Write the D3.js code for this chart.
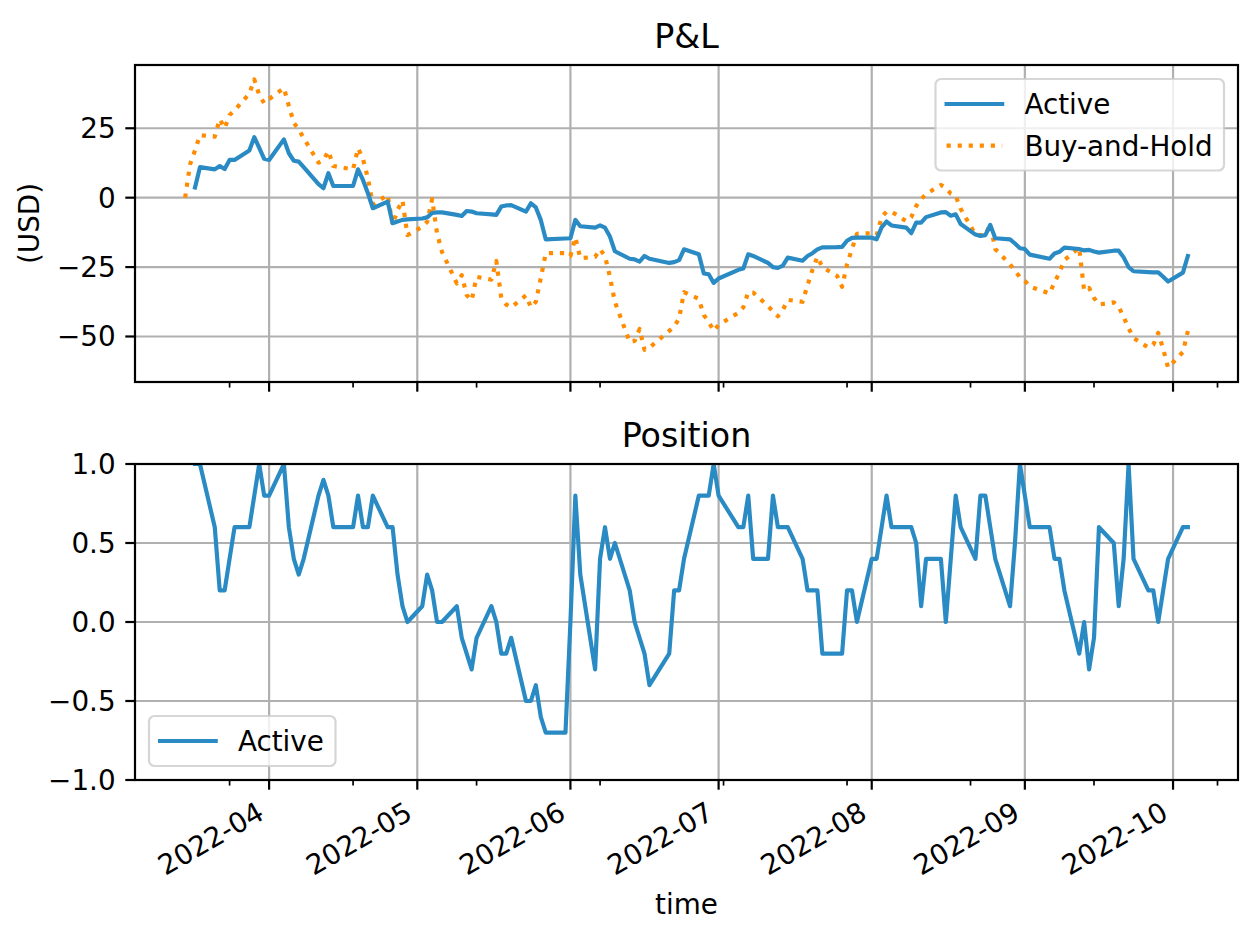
<!DOCTYPE html>
<html><head><meta charset="utf-8">
<script src="https://cdn.jsdelivr.net/npm/d3@7"></script>
<style>
body{margin:0;background:#fff}
svg text{font-family:"DejaVu Sans",sans-serif;fill:#000}
</style>
</head><body><svg id="c" width="1256" height="940"></svg>
<script>
// ---- data ----
const dates = ["2022-03-15","2022-03-16","2022-03-17","2022-03-18","2022-03-21","2022-03-22","2022-03-23","2022-03-24","2022-03-25","2022-03-28","2022-03-29","2022-03-30","2022-03-31","2022-04-01","2022-04-04","2022-04-05","2022-04-06","2022-04-07","2022-04-08","2022-04-11","2022-04-12","2022-04-13","2022-04-14","2022-04-18","2022-04-19","2022-04-20","2022-04-21","2022-04-22","2022-04-25","2022-04-26","2022-04-27","2022-04-28","2022-04-29","2022-05-02","2022-05-03","2022-05-04","2022-05-05","2022-05-06","2022-05-09","2022-05-10","2022-05-11","2022-05-12","2022-05-13","2022-05-16","2022-05-17","2022-05-18","2022-05-19","2022-05-20","2022-05-23","2022-05-24","2022-05-25","2022-05-26","2022-05-27","2022-05-31","2022-06-01","2022-06-02","2022-06-03","2022-06-06","2022-06-07","2022-06-08","2022-06-09","2022-06-10","2022-06-13","2022-06-14","2022-06-15","2022-06-16","2022-06-17","2022-06-21","2022-06-22","2022-06-23","2022-06-24","2022-06-27","2022-06-28","2022-06-29","2022-06-30","2022-07-01","2022-07-05","2022-07-06","2022-07-07","2022-07-08","2022-07-11","2022-07-12","2022-07-13","2022-07-14","2022-07-15","2022-07-18","2022-07-19","2022-07-20","2022-07-21","2022-07-22","2022-07-25","2022-07-26","2022-07-27","2022-07-28","2022-07-29","2022-08-01","2022-08-02","2022-08-03","2022-08-04","2022-08-05","2022-08-08","2022-08-09","2022-08-10","2022-08-11","2022-08-12","2022-08-15","2022-08-16","2022-08-17","2022-08-18","2022-08-19","2022-08-22","2022-08-23","2022-08-24","2022-08-25","2022-08-26","2022-08-29","2022-08-30","2022-08-31","2022-09-01","2022-09-02","2022-09-06","2022-09-07","2022-09-08","2022-09-09","2022-09-12","2022-09-13","2022-09-14","2022-09-15","2022-09-16","2022-09-19","2022-09-20","2022-09-21","2022-09-22","2022-09-23","2022-09-26","2022-09-27","2022-09-28","2022-09-29","2022-09-30","2022-10-03","2022-10-04"];

const activePnl = [null,null,3.7,11.0,10.2,11.4,10.3,13.6,13.6,17.0,21.8,17.9,14.0,13.6,21.0,16.0,13.3,13.0,11.0,4.9,3.4,8.8,4.2,4.2,10.2,6.4,1.6,-3.8,-1.4,-9.2,-8.6,-8.0,-7.8,-7.5,-7.1,-5.5,-5.3,-5.3,-6.2,-6.6,-4.8,-5.0,-5.6,-6.0,-6.2,-3.2,-2.8,-2.7,-5.0,-2.0,-3.5,-8.0,-15.0,-14.7,-14.6,-8.0,-10.3,-10.8,-10.0,-10.8,-14.0,-19.3,-22.0,-22.2,-23.0,-21.0,-22.0,-23.5,-23.2,-22.5,-18.6,-20.4,-27.3,-27.6,-30.7,-29.1,-26.0,-25.5,-20.4,-21.0,-23.5,-25.0,-25.3,-24.5,-21.6,-22.7,-21.0,-20.0,-18.6,-17.9,-17.8,-17.7,-15.5,-14.5,-14.4,-14.4,-15.0,-10.7,-8.6,-10.0,-10.8,-12.8,-9.0,-9.0,-7.0,-5.3,-5.2,-6.5,-6.0,-9.5,-13.3,-13.8,-13.5,-9.8,-14.6,-15.0,-16.5,-18.2,-18.5,-20.5,-22.0,-20.1,-19.5,-18.0,-18.5,-19.0,-18.8,-19.4,-19.8,-19.1,-19.1,-21.5,-25.0,-26.5,-26.8,-26.9,-26.9,-28.5,-30.2,-27.0,-21.0];

const buyHoldPnl = [0.0,12.0,17.0,22.5,22.0,28.3,25.0,29.8,31.4,37.5,42.6,37.0,34.0,35.5,39.5,33.0,27.0,24.5,21.5,12.6,13.5,16.8,11.4,10.2,17.8,14.0,7.0,-2.5,1.0,-9.8,-4.5,-1.0,-13.5,-10.5,-8.7,-0.5,-12.8,-19.5,-30.9,-27.9,-35.1,-37.0,-28.5,-29.5,-22.8,-36.0,-38.5,-39.5,-35.2,-39.5,-37.5,-29.0,-20.0,-20.0,-21.0,-14.3,-21.8,-21.3,-18.6,-21.0,-28.5,-37.5,-52.0,-51.6,-47.3,-54.8,-54.0,-48.0,-46.5,-43.5,-34.0,-36.5,-42.3,-44.7,-48.0,-45.8,-41.5,-39.5,-34.0,-34.2,-39.0,-41.0,-42.7,-40.5,-36.8,-37.5,-31.5,-26.0,-21.3,-25.0,-28.2,-32.1,-24.0,-18.5,-13.0,-12.8,-13.5,-7.0,-5.0,-5.0,-8.5,-7.0,-3.0,-0.5,1.3,4.6,3.5,1.5,0.6,-4.0,-13.3,-13.5,-13.5,-9.5,-18.5,-24.0,-26.3,-28.6,-30.0,-32.0,-34.5,-30.5,-27.0,-22.5,-18.0,-33.5,-32.5,-36.1,-38.5,-37.7,-39.3,-43.0,-47.0,-50.5,-54.0,-53.0,-48.7,-54.5,-61.2,-55.6,-48.0];

const position = [null,null,1.0,1.0,0.6,0.2,0.2,0.4,0.6,0.6,0.8,1.0,0.8,0.8,1.0,0.6,0.4,0.3,0.4,0.8,0.9,0.8,0.6,0.6,0.8,0.6,0.6,0.8,0.6,0.6,0.3,0.1,0.0,0.1,0.3,0.2,0.0,0.0,0.1,-0.1,-0.2,-0.3,-0.1,0.1,0.0,-0.2,-0.2,-0.1,-0.5,-0.5,-0.4,-0.6,-0.7,-0.7,0.0,0.8,0.3,-0.3,0.4,0.6,0.4,0.5,0.2,0.0,-0.1,-0.2,-0.4,-0.2,0.2,0.2,0.4,0.8,0.8,0.8,1.0,0.8,0.6,0.6,0.8,0.4,0.4,0.8,0.6,0.6,0.6,0.4,0.2,0.2,0.2,-0.2,-0.2,-0.2,0.2,0.2,0.0,0.4,0.4,0.6,0.8,0.6,0.6,0.6,0.5,0.1,0.4,0.4,0.0,0.4,0.8,0.6,0.4,0.8,0.8,0.6,0.4,0.1,0.5,1.0,0.8,0.6,0.6,0.4,0.4,0.2,-0.2,0.0,-0.3,-0.1,0.6,0.5,0.1,0.4,1.0,0.4,0.2,0.2,0.0,0.2,0.4,0.6,0.6];

const monthTicks = ["2022-04-01","2022-05-01","2022-06-01","2022-07-01","2022-08-01","2022-09-01","2022-10-01"];
const monthLabels = ["2022-04","2022-05","2022-06","2022-07","2022-08","2022-09","2022-10"];
const minorTicks = ["2022-03-24","2022-04-18","2022-05-13","2022-06-07","2022-07-02","2022-07-27","2022-08-21","2022-09-15","2022-10-10"];
const pnlTicks = [-50,-25,0,25];
const posTicks = [-1,-0.5,0,0.5,1];
const seriesNames = ["Active","Buy-and-Hold"];

// ---- drawing ----
const parse = d3.utcParse("%Y-%m-%d");
const T = dates.map(parse);
const svg = d3.select("#c");
const FS = 27.8, TFS = 33.3, LW = 2.2;
const BLUE = "#2a8bc4", ORANGE = "#ff8c00", GRID = "#b0b0b0";
const L = 135, R = 1238;
const top1 = 65, bot1 = 382, top2 = 464, bot2 = 780;

const t0 = T[0], t1 = T[T.length-1], span = t1 - t0;
const x = d3.scaleUtc().domain([new Date(+t0 - 0.05*span), new Date(+t1 + 0.05*span)]).range([L, R]);

const allP = activePnl.concat(buyHoldPnl).filter(v => v != null);
const [pmin, pmax] = d3.extent(allP);
const pp = (pmax - pmin) * 0.05;
const y1 = d3.scaleLinear().domain([pmin - pp, pmax + pp]).range([bot1, top1]);
const y2 = d3.scaleLinear().domain([-1, 1]).range([bot2, top2]);

const defs = svg.append("defs");
defs.append("clipPath").attr("id","cp1").append("rect").attr("x",L).attr("y",top1).attr("width",R-L).attr("height",bot1-top1);
defs.append("clipPath").attr("id","cp2").append("rect").attr("x",L).attr("y",top2).attr("width",R-L).attr("height",bot2-top2);

function panel(y, top, bot, yTicks, fmt, clip, showXLabels) {
  const g = svg.append("g");
  // grid
  g.selectAll(null).data(monthTicks).enter().append("line")
    .attr("x1", d => x(parse(d))).attr("x2", d => x(parse(d)))
    .attr("y1", top).attr("y2", bot).attr("stroke", GRID).attr("stroke-width", LW);
  g.selectAll(null).data(yTicks).enter().append("line")
    .attr("x1", L).attr("x2", R).attr("y1", d => y(d)).attr("y2", d => y(d))
    .attr("stroke", GRID).attr("stroke-width", LW);
  return g;
}

function frame(y, top, bot, yTicks, fmt, showXLabels) {
  const g = svg.append("g");
  g.append("rect").attr("x", L).attr("y", top).attr("width", R-L).attr("height", bot-top)
    .attr("fill","none").attr("stroke","#000").attr("stroke-width", LW).attr("stroke-linejoin","miter");
  // y ticks
  g.selectAll(null).data(yTicks).enter().append("line")
    .attr("x1", L - 9.7).attr("x2", L).attr("y1", d => y(d)).attr("y2", d => y(d))
    .attr("stroke","#000").attr("stroke-width", LW);
  g.selectAll(null).data(yTicks).enter().append("text")
    .attr("x", L - 19.4).attr("y", d => y(d) + 10).attr("text-anchor","end")
    .style("font-size", FS + "px").text(fmt);
  // x ticks
  g.selectAll(null).data(monthTicks).enter().append("line")
    .attr("x1", d => x(parse(d))).attr("x2", d => x(parse(d)))
    .attr("y1", bot).attr("y2", bot + 9.7).attr("stroke","#000").attr("stroke-width", LW);
  g.selectAll(null).data(minorTicks).enter().append("line")
    .attr("x1", d => x(parse(d))).attr("x2", d => x(parse(d)))
    .attr("y1", bot).attr("y2", bot + 5.6).attr("stroke","#000").attr("stroke-width", 1.7);
  if (showXLabels) {
    g.selectAll(null).data(monthTicks).enter().append("text")
      .attr("transform", (d) => `translate(${x(parse(d)) - 3.2},${bot + 37.9}) rotate(-30)`)
      .attr("text-anchor","end").style("font-size", FS + "px")
      .text((d,i) => monthLabels[i]);
  }
  return g;
}

const minus = s => s.replace("-", "\u2212");

// top panel
panel(y1, top1, bot1, pnlTicks);
const lineA = d3.line().defined(d => d.v != null).x(d => x(d.t)).y(d => y1(d.v));
const actData = T.map((t,i) => ({t, v: activePnl[i]}));
const bhData = T.map((t,i) => ({t, v: buyHoldPnl[i]}));
svg.append("path").datum(bhData).attr("d", lineA).attr("clip-path","url(#cp1)")
  .attr("fill","none").attr("stroke", ORANGE).attr("stroke-width", 4.17)
  .attr("stroke-dasharray","4.17,6.88").attr("stroke-linecap","butt").attr("stroke-linejoin","round");
svg.append("path").datum(actData).attr("d", lineA).attr("clip-path","url(#cp1)")
  .attr("fill","none").attr("stroke", BLUE).attr("stroke-width", 4.17)
  .attr("stroke-linecap","square").attr("stroke-linejoin","round");
frame(y1, top1, bot1, pnlTicks, d => minus(String(d)), false);

// bottom panel
panel(y2, top2, bot2, posTicks);
const lineP = d3.line().defined(d => d.v != null).x(d => x(d.t)).y(d => y2(d.v));
const posData = T.map((t,i) => ({t, v: position[i]}));
svg.append("path").datum(posData).attr("d", lineP).attr("clip-path","url(#cp2)")
  .attr("fill","none").attr("stroke", BLUE).attr("stroke-width", 4.17)
  .attr("stroke-linecap","square").attr("stroke-linejoin","round");
frame(y2, top2, bot2, posTicks, d => minus(d.toFixed(1)), true);

// titles and labels
const cx = (L + R) / 2;
svg.append("text").attr("x", cx).attr("y", top1 - 16.7).attr("text-anchor","middle").style("font-size", TFS+"px").text("P&L");
svg.append("text").attr("x", cx).attr("y", top2 - 16.7).attr("text-anchor","middle").style("font-size", TFS+"px").text("Position");
svg.append("text").attr("transform", `translate(39,${(top1+bot1)/2}) rotate(-90)`).attr("text-anchor","middle").style("font-size", FS+"px").text("(USD)");
svg.append("text").attr("x", cx).attr("y", 914).attr("text-anchor","middle").style("font-size", FS+"px").text("time");

// legends
function legend(x0, y0, w, h, items) {
  const g = svg.append("g");
  g.append("rect").attr("x", x0).attr("y", y0).attr("width", w).attr("height", h).attr("rx", 5.6)
    .attr("fill","#fff").attr("fill-opacity",0.8).attr("stroke","#cccccc").attr("stroke-opacity",0.8).attr("stroke-width",2.2);
  items.forEach((it, i) => {
    const cy = y0 + 11.1 + 13.9 + i * 41.7;
    const ln = g.append("line").attr("x1", x0 + 11.1).attr("x2", x0 + 11.1 + 55.6).attr("y1", cy).attr("y2", cy)
      .attr("stroke", it.color).attr("stroke-width", 4.17);
    if (it.dash) ln.attr("stroke-dasharray", it.dash).attr("stroke-linecap","butt");
    else ln.attr("stroke-linecap","square");
    g.append("text").attr("x", x0 + 11.1 + 55.6 + 22.2).attr("y", cy + 10).style("font-size", FS+"px").text(it.name);
  });
}
legend(935.5, 79, 288.5, 91.5, [{name: seriesNames[0], color: BLUE}, {name: seriesNames[1], color: ORANGE, dash: "4.17,6.88"}]);
legend(149, 716, 186.5, 50, [{name: seriesNames[0], color: BLUE}]);
</script>
</body></html>
